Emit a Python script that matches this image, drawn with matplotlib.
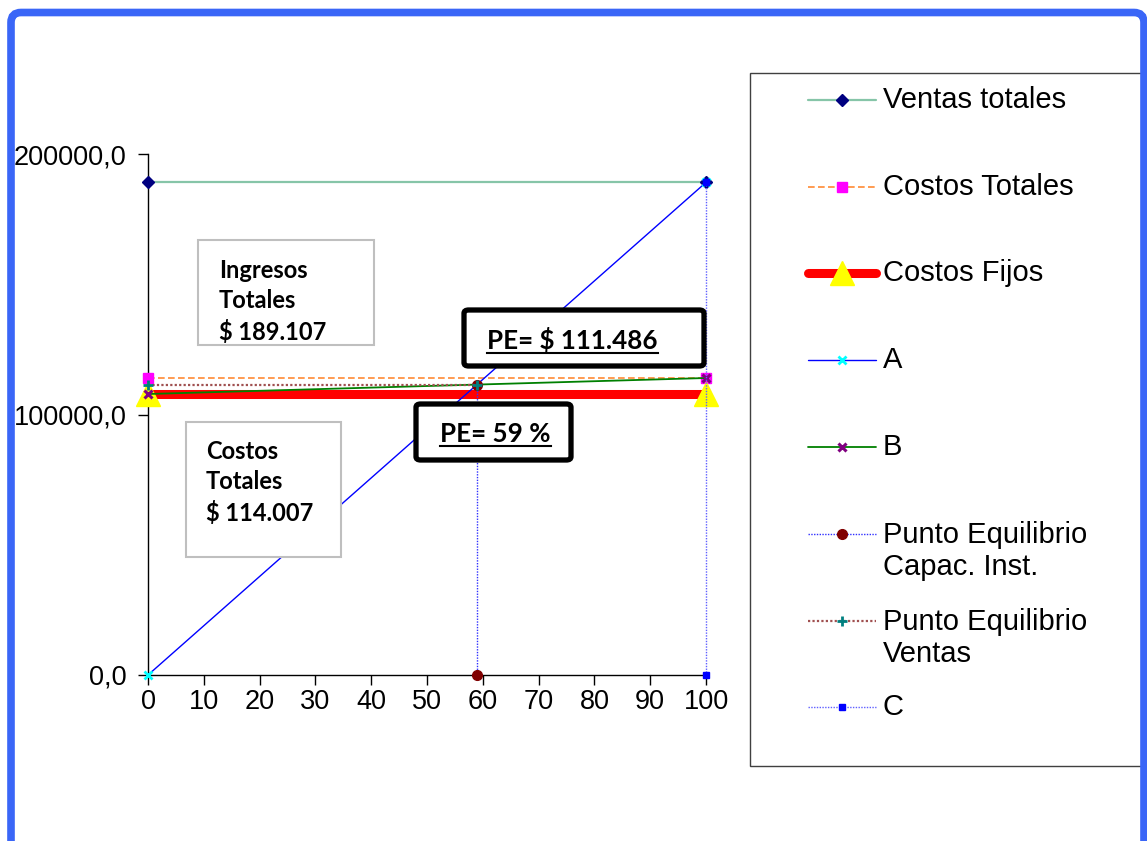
import matplotlib
matplotlib.use("Agg")
import matplotlib.pyplot as plt
from matplotlib.lines import Line2D
from matplotlib.patches import Rectangle, FancyBboxPatch
from matplotlib.ticker import FuncFormatter, MultipleLocator

# Break-even analysis values (% of installed capacity vs. $)
capacidad = [0, 100]
ventas_totales = [189107, 189107]
costos_totales = [114007, 114007]
costos_fijos = [107866, 107866]
serie_a = [0, 189107]
serie_b = [107866, 114007]
pe_pct = 58.95
pe_ventas = 111486
pe_capac_x = [pe_pct, pe_pct]
pe_capac_y = [0, pe_ventas]
pe_ventas_x = [0, pe_pct]
pe_ventas_y = [pe_ventas, pe_ventas]
serie_c_x = [100, 100]
serie_c_y = [0, 189107]

labels = ["Ventas totales", "Costos Totales", "Costos Fijos", "A", "B",
          "Punto Equilibrio\nCapac. Inst.", "Punto Equilibrio\nVentas", "C"]

styles = [
    dict(color="#86c5a8", lw=1.6, ls="-", marker="D", ms=6, mfc="#000080", mec="#000080"),
    dict(color="#ff8a33", lw=1.2, ls=(0, (4, 2)), marker="s", ms=7, mfc="#ff00ff", mec="#ff00ff"),
    dict(color="#ff0000", lw=6.5, ls="-", marker="^", ms=17, mfc="#ffff00", mec="#ffff00"),
    dict(color="#0000ff", lw=1.0, ls="-", marker="x", ms=6, mfc="#00ffff", mec="#00ffff", mew=2),
    dict(color="#008000", lw=1.3, ls="-", marker="x", ms=6, mfc="#800080", mec="#800080", mew=2.2),
    dict(color="#3030ff", lw=1.0, ls=(0, (1, 1)), marker="o", ms=7, mfc="#800000", mec="#800000"),
    dict(color="#a05050", lw=1.6, ls=(0, (1, 1)), marker="+", ms=7, mfc="#008080", mec="#008080", mew=2),
    dict(color="#6060ff", lw=1.0, ls=(0, (1, 1)), marker="s", ms=4, mfc="#0000ff", mec="#0000ff"),
]

W, H = 1147, 841
fig = plt.figure(figsize=(W / 100, H / 100), dpi=100)
fig.patch.set_facecolor("white")


def px(x, y):
    return (x / W, 1 - y / H)


ax = fig.add_axes([148 / W, 1 - 675 / H, 558 / W, 521 / H])

series = [
    (capacidad, ventas_totales),
    (capacidad, costos_totales),
    (capacidad, costos_fijos),
    (capacidad, serie_a),
    (capacidad, serie_b),
    (pe_capac_x, pe_capac_y),
    (pe_ventas_x, pe_ventas_y),
    (serie_c_x, serie_c_y),
]
for i, ((xs, ys), st) in enumerate(zip(series, styles)):
    ax.plot(xs, ys, clip_on=False, zorder=3 + i, **st)

ax.set_xlim(0, 100)
ax.set_ylim(0, 200000)
ax.xaxis.set_major_locator(MultipleLocator(10))
ax.yaxis.set_major_locator(MultipleLocator(100000))
ax.yaxis.set_major_formatter(FuncFormatter(lambda v, _: f"{v:.1f}".replace(".", ",")))
for side in ("top", "right"):
    ax.spines[side].set_visible(False)
for side in ("left", "bottom"):
    ax.spines[side].set_linewidth(1.0)
    ax.spines[side].set_color("black")
ax.tick_params(axis="both", direction="out", length=7, width=1, colors="black",
               labelsize=19.5)
ax.tick_params(axis="y", pad=8.5)
ax.tick_params(axis="x", pad=3)
for lab in ax.get_xticklabels() + ax.get_yticklabels():
    lab.set_fontfamily(["Liberation Sans", "DejaVu Sans"])

# Annotation boxes (multi-line text is anchored on its last baseline)
box_font = dict(family=["Lato", "DejaVu Sans"], fontweight="bold", fontsize=17,
                color="black", linespacing=1.38)
fig.add_artist(Rectangle(px(198, 345), 176 / W, 105 / H, transform=fig.transFigure,
                         facecolor="white", edgecolor="#bfbfbf", lw=1.5, zorder=20))
fig.text(*px(219, 340), "Ingresos\nTotales\n$ 189.107", va="baseline", ha="left",
         zorder=21, **box_font)
fig.add_artist(Rectangle(px(186, 557), 155 / W, 135 / H, transform=fig.transFigure,
                         facecolor="white", edgecolor="#bfbfbf", lw=1.5, zorder=20))
fig.text(*px(206, 521), "Costos\nTotales\n$ 114.007", va="baseline", ha="left",
         zorder=21, **box_font)

pe_font = dict(box_font, fontsize=18.7)
pe_boxes = [
    ((464, 310, 704, 366), (487, 349), f"PE= $ {pe_ventas / 1000:.3f}"),
    ((416, 404, 571, 460), (440, 442), f"PE= {pe_pct:.0f} %"),
]
fig.canvas.draw()
renderer = fig.canvas.get_renderer()
for (x0, y0, x1, y1), (tx, ty), txt in pe_boxes:
    fig.add_artist(FancyBboxPatch(px(x0, y1), (x1 - x0) / W, (y1 - y0) / H,
                                  boxstyle="round,pad=0,rounding_size=0.004",
                                  transform=fig.transFigure, facecolor="white",
                                  edgecolor="black", lw=3.8, zorder=20))
    t = fig.text(*px(tx, ty), txt, va="baseline", ha="left", zorder=21, **pe_font)
    bb = t.get_window_extent(renderer)
    uy = ty + 3.5
    fig.add_artist(Line2D([bb.x0 / W, bb.x1 / W], [1 - uy / H, 1 - uy / H],
                          transform=fig.transFigure, color="black", lw=1.5, zorder=22))

# Legend panel
fig.add_artist(Rectangle(px(750, 766), 420 / W, 693 / H, transform=fig.transFigure,
                         facecolor="white", edgecolor="#404040", lw=1.0, zorder=10))
legend_y = [100, 187, 273, 360, 447, 534, 621, 707]
for y, st, lab in zip(legend_y, styles, labels):
    line_st = {k: v for k, v in st.items() if k in ("color", "lw", "ls")}
    mark_st = {k: v for k, v in st.items() if k in ("marker", "ms", "mfc", "mec", "mew")}
    fig.add_artist(Line2D([808 / W, 876 / W], [1 - y / H, 1 - y / H],
                          transform=fig.transFigure, solid_capstyle="round",
                          zorder=11, **line_st))
    fig.add_artist(Line2D([842 / W], [1 - y / H], transform=fig.transFigure,
                          ls="none", zorder=12, **mark_st))
    n = lab.count("\n")
    fig.text(*px(883, y + 17 * n), lab, va="center", ha="left", fontsize=21,
             family=["Liberation Sans", "DejaVu Sans"], color="black",
             linespacing=1.18, zorder=12)

# Outer frame
fig.add_artist(FancyBboxPatch((11 / 100, -0.6), (1144 - 11) / 100, (H - 12.5) / 100 + 0.6,
                              boxstyle="round,pad=0,rounding_size=0.1",
                              transform=fig.dpi_scale_trans, facecolor="none",
                              edgecolor="#3a66f7", lw=5.5, zorder=30))

fig.savefig("out.png", dpi=100, facecolor="white")
